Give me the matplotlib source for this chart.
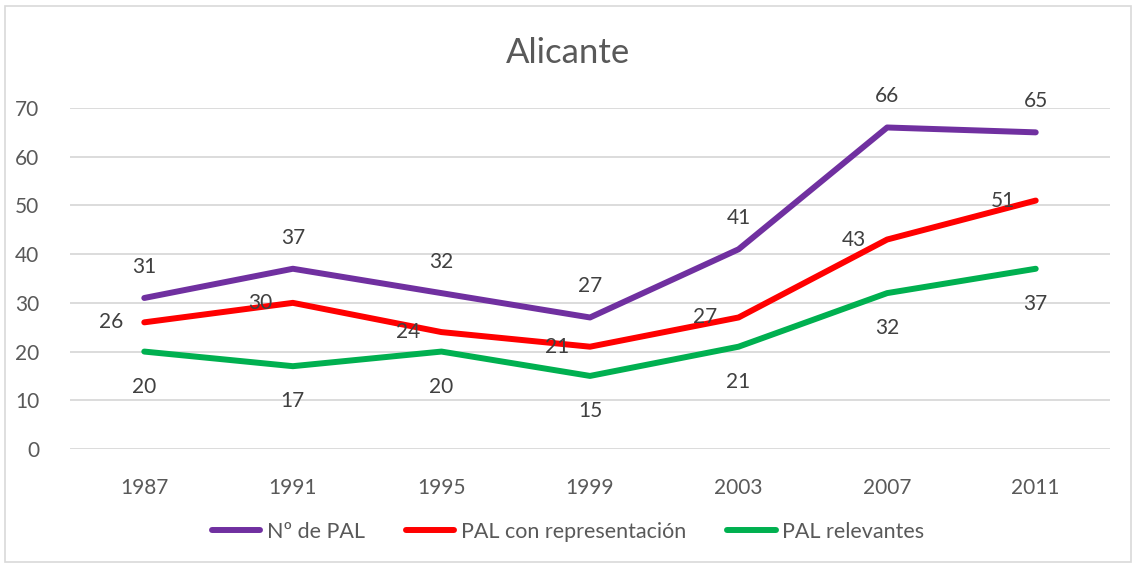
import matplotlib.pyplot as plt
from matplotlib.patches import Rectangle

# Alicante: number of PAL per election year
years = ['1987', '1991', '1995', '1999', '2003', '2007', '2011']
num_pal = [31, 37, 32, 27, 41, 66, 65]
pal_representacion = [26, 30, 24, 21, 27, 43, 51]
pal_relevantes = [20, 17, 20, 15, 21, 32, 37]

series = [
    ('Nº de PAL', num_pal, '#7030A0', (0, 31)),
    ('PAL con representación', pal_representacion, '#FF0000', (-33, 0)),
    ('PAL relevantes', pal_relevantes, '#00B050', (0, -35)),
]

text_color = '#595959'
plt.rcParams['font.family'] = ['Lato', 'DejaVu Sans']

fig = plt.figure(figsize=(11.36, 5.65), dpi=100)
ax = fig.add_axes([70 / 1136, 1 - 449 / 565, 1040 / 1136, 341 / 565])

x = list(range(len(years)))
for label, values, color, offset in series:
    ax.plot(x, values, color=color, linewidth=4.3, solid_capstyle='round',
            solid_joinstyle='round', label=label, zorder=3)
    for xi, v in zip(x, values):
        ax.annotate(str(v), (xi, v), xytext=offset, textcoords='offset pixels',
                    ha='center', va='center', fontsize=15, color='#404040',
                    zorder=4)

ax.set_xlim(-0.5, len(years) - 0.5)
ax.set_ylim(0, 70)
ax.set_yticks(range(0, 71, 10))
ax.set_xticks(x)
ax.set_xticklabels(years)
ax.grid(axis='y', color='#D9D9D9', linewidth=1.3)
ax.set_axisbelow(True)
for spine in ax.spines.values():
    spine.set_visible(False)
ax.tick_params(axis='both', length=0, labelsize=15, labelcolor=text_color)
ax.tick_params(axis='x', pad=21)
ax.tick_params(axis='y', pad=22)

fig.text(0.5, 1 - 53 / 565, 'Alicante', ha='center', va='center',
         fontsize=25, color=text_color)

leg = fig.legend(loc='center', bbox_to_anchor=(0.5, 1 - 532 / 565), ncol=3,
                 frameon=False, fontsize=15.5, handlelength=2.26,
                 handletextpad=0.3, columnspacing=1.9)
for t in leg.get_texts():
    t.set_color(text_color)

# light chart border
fig.add_artist(Rectangle((5 / 1136, 3 / 565), 1126 / 1136, 556 / 565,
                         transform=fig.transFigure, fill=False,
                         edgecolor='#D9D9D9', linewidth=1.2))

fig.savefig('out.png', dpi=100, facecolor='white')
